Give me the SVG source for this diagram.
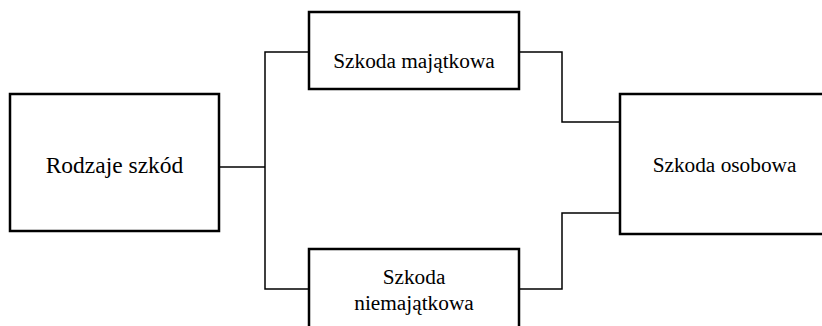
<svg xmlns="http://www.w3.org/2000/svg" width="822" height="326" viewBox="0 0 822 326">
<style>
.box{fill:#fff;stroke:#000;stroke-width:2.5}
.conn{fill:none;stroke:#000;stroke-width:1.5}
text{font-family:"Liberation Serif","Times New Roman",serif;font-size:21.3px;fill:#000;text-anchor:middle}
</style>
<rect width="822" height="326" fill="#fff"/>
<g id="connectors">
<polyline class="conn" points="219,167 265,167"/>
<polyline class="conn" points="309,52 265,52 265,289 309,289"/>
<polyline class="conn" points="519,52 562,52 562,122 620,122"/>
<polyline class="conn" points="519,289 562,289 562,213 620,213"/>
</g>
<g id="rodzaje">
<rect class="box" x="10" y="94" width="209" height="137"/>
<text x="114.5" y="173" style="font-size:23.5px">Rodzaje szkód</text>
</g>
<g id="majatkowa">
<rect class="box" x="309" y="12" width="210" height="77"/>
<text x="414" y="68">Szkoda majątkowa</text>
</g>
<g id="niemajatkowa">
<rect class="box" x="309" y="249" width="210" height="90"/>
<text x="414" y="284">Szkoda</text>
<text x="414" y="310">niemajątkowa</text>
</g>
<g id="osobowa">
<rect class="box" x="620" y="94" width="215" height="140"/>
<text x="724.5" y="172">Szkoda osobowa</text>
</g>
</svg>
